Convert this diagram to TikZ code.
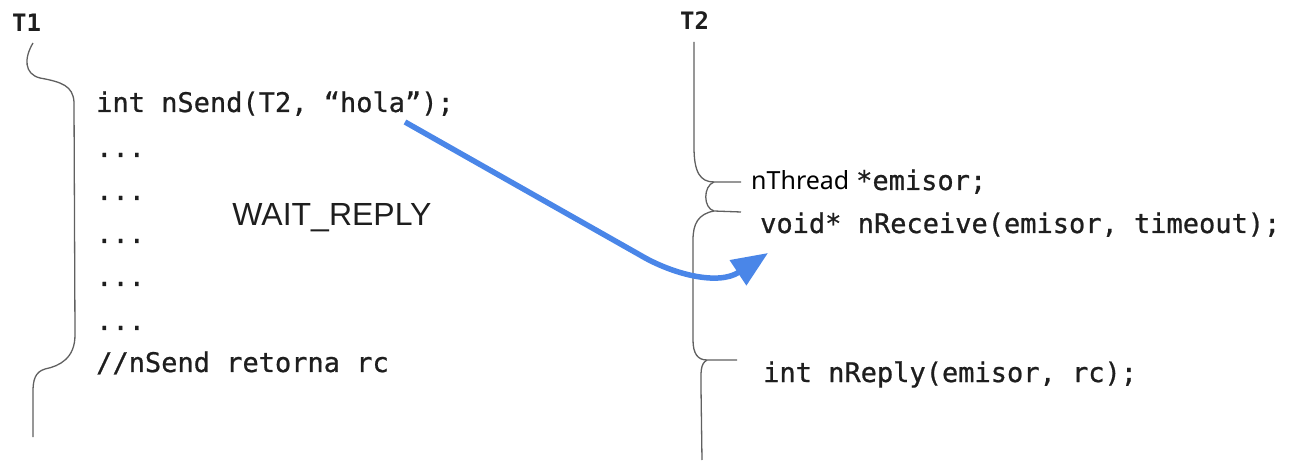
\documentclass[tikz,border=0pt]{standalone}
\usepackage{fontspec}
\usetikzlibrary{arrows.meta}
\newfontfamily\codefont[FakeBold=0.8]{DejaVu Sans Mono}
\newfontfamily\tfont{DejaVu Sans Mono Bold}
\newfontfamily\labelfont{Liberation Sans}
\newfontfamily\plainfont{Noto Sans}
\definecolor{arrowblue}{RGB}{74,134,232}
\definecolor{txt}{RGB}{30,30,30}
\definecolor{lifeline}{RGB}{96,96,96}
\begin{document}
\begin{tikzpicture}[x=1pt,y=-1pt,
  code/.style={anchor=base west,inner sep=0pt,text=txt,font=\codefont\fontsize{27}{27}\selectfont},
  thread/.style={anchor=base west,inner sep=0pt,text=txt,font=\tfont\fontsize{24}{24}\selectfont},
  state/.style={anchor=center,inner sep=0pt,text=txt,font=\labelfont\fontsize{32}{32}\selectfont},
  plain/.style={anchor=base west,inner sep=0pt,text=black,font=\plainfont\fontsize{25}{25}\selectfont},
  life/.style={draw=lifeline,line width=1.3pt},
  msg/.style={draw=arrowblue,line width=5.5pt,-{Triangle[length=36pt,width=29pt]}}]
\useasboundingbox (0,0) rectangle (1291,462);
% T1
\node[thread] (t1label) at (12,32) {T1};
\node[code] (send) at (96,112) {int nSend(T2, “hola”);};
\node[code] (d1) at (96,157) {...};
\node[code] (d2) at (96,200) {...};
\node[code] (d3) at (96,243) {...};
\node[code] (d4) at (96,286) {...};
\node[code] (d5) at (96,330) {...};
\node[code] (ret) at (96,372) {//nSend retorna rc};
\node[state] (wait) at (332,218) {WAIT\_REPLY};
\draw[life] (33,43) .. controls (24,58) and (24,74) .. (40,78)
  .. controls (62,82) and (73,86) .. (74,102) -- (75,335)
  .. controls (75,358) and (60,366) .. (45,369)
  .. controls (35,372) and (33,380) .. (33,392) -- (33,437);
% T2
\node[thread] (t2label) at (680,30) {T2};
\node[plain] (nthread) at (751,190) {nThread};
\node[code] (emisor) at (856,190) {*emisor;};
\node[code] (recv) at (760,233) {void* nReceive(emisor, timeout);};
\node[code] (reply) at (763,382) {int nReply(emisor, rc);};
\draw[life] (694,42) -- (694,147) .. controls (694,172) and (700,182) .. (714,182) -- (741,182);
\draw[life] (714,182) .. controls (703,186) and (703,208) .. (714,211) -- (741,212);
\draw[life] (714,211) .. controls (698,214) and (693,224) .. (693,240) -- (693,340)
  .. controls (693,354) and (698,360) .. (707,360) -- (737,360);
\draw[life] (707,360) .. controls (700,364) and (701,372) .. (701,388) -- (702,460);
% message
\coordinate (s) at (405,122);
\coordinate (e) at (768,253);
\draw[msg] (s) -- (640,255) .. controls (672,274) and (718,286) .. (e);
\end{tikzpicture}
\end{document}
